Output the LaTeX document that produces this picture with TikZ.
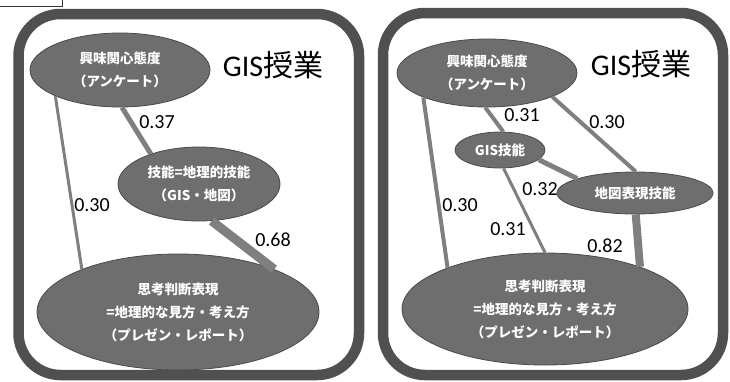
\documentclass[tikz,border=0pt]{standalone}
\usepackage{fontspec}
\setmainfont{Carlito}
\newfontfamily\jpfont{Noto Sans CJK JP}
\usetikzlibrary{shapes.geometric}
\definecolor{frameGray}{HTML}{505050}
\definecolor{bubbleFill}{HTML}{6E6E6E}
\definecolor{bubbleLine}{HTML}{4A4A4A}
\definecolor{linkGray}{HTML}{7F7F7F}
\tikzset{%
  % styles of the panels, ellipses and links
        panel/.style = {draw=frameGray, line width=10.5pt, rounded corners=42pt},
       bubble/.style = {ellipse, draw=bubbleLine, fill=bubbleFill, line width=0.8pt,
                        inner sep=0pt, text=white, align=center,
                        font=\jpfont\bfseries\fontsize{13.5}{23}\selectfont},
         link/.style = {draw=linkGray, line width=#1},
       weight/.style = {inner sep=0pt, font=\fontsize{20}{20}\selectfont},
        title/.style = {inner sep=0pt, font=\fontsize{30}{30}\selectfont},
}

\begin{document}
\begin{tikzpicture}[x=1pt, y=-1pt]
  \useasboundingbox (0,0) rectangle (730,381);
  % corner of the box at the top left
  \draw[line width=0.8pt, black!80] (62,0) -- (62,6) -- (0,6);
  % the two panels
  \draw[panel] (18.5,14) rectangle (359,375);
  \draw[panel] (383,13) rectangle (723,375);

  % left panel
  \node (titleL) [title] at (273,65) {GIS{\jpfont 授業}};
  \node (interestL) [bubble, minimum width=180pt, minimum height=74pt] at (120,70)
                                                  {興味関心態度\\（アンケート）};
  \node (skillL)    [bubble, minimum width=162pt, minimum height=74pt] at (199,184)
                                                  {技能=地理的技能\\（GIS・地図）};
  \node (thinkL)    [bubble, minimum width=282pt, minimum height=116pt] at (178,312)
                     {思考判断表現\\=地理的な見方・考え方\\（プレゼン・レポート）};
  \draw[link=3pt] (interestL.202) -- (thinkL.156);
  \draw[link=5pt] (interestL.273) -- (skillL.148);
  \draw[link=9pt] (skillL.289) -- (thinkL.24);
  \node (wL1) [weight] at (92,205)  {0.30};
  \node (wL2) [weight] at (157,122) {0.37};
  \node (wL3) [weight] at (273,240) {0.68};

  % right panel
  \node (titleR) [title] at (641,64) {GIS{\jpfont 授業}};
  \node (interestR) [bubble, minimum width=180pt, minimum height=68pt] at (487,73)
                                                  {興味関心態度\\（アンケート）};
  \node (gisR)      [bubble, minimum width=90pt, minimum height=36pt] at (500,150)
                                                  {GIS技能};
  \node (mapR)      [bubble, minimum width=156pt, minimum height=42pt] at (635,193)
                                                  {地図表現技能};
  \node (thinkR)    [bubble, minimum width=286pt, minimum height=112pt] at (545,309)
                     {思考判断表現\\=地理的な見方・考え方\\（プレゼン・レポート）};
  \draw[link=4pt] (interestR.201) -- (thinkR.157);
  \draw[link=4pt] (interestR.267) -- (gisR.80);
  \draw[link=4pt] (interestR.340) -- (mapR.88);
  \draw[link=5pt] (gisR.346) -- (mapR.166);
  \draw[link=3pt] (gisR.281) -- (thinkR.90);
  \draw[link=8pt] (mapR.272) -- (thinkR.24);
  \node (wR1) [weight] at (522,115) {0.31};
  \node (wR2) [weight] at (607,122) {0.30};
  \node (wR3) [weight] at (540,189) {0.32};
  \node (wR4) [weight] at (460,205) {0.30};
  \node (wR5) [weight] at (508,229) {0.31};
  \node (wR6) [weight] at (605,246) {0.82};
\end{tikzpicture}
\end{document}
